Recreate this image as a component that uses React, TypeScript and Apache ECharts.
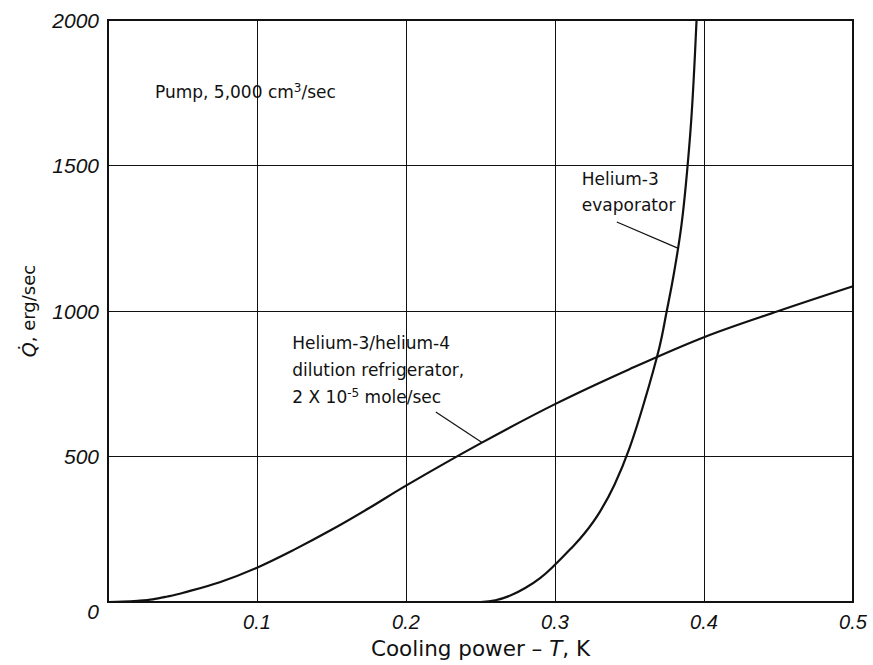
import React, { useEffect, useRef } from "react";
import * as echarts from "echarts";

// Temperature T (K) and cooling power Q-dot (erg/sec) for the two coolers
const DILUTION_T = [0, 0.01, 0.02, 0.03, 0.04, 0.05, 0.075, 0.1, 0.125, 0.15, 0.175, 0.2, 0.25, 0.3, 0.35, 0.4, 0.45, 0.5];
const DILUTION_Q = [0, 1, 4, 9, 19, 31, 68, 118, 180, 248, 322, 400, 545, 680, 800, 910, 1000, 1085];

const EVAPORATOR_T = [0.25, 0.26, 0.27, 0.28, 0.29, 0.3, 0.31, 0.32, 0.33, 0.34, 0.35, 0.36, 0.37, 0.375, 0.38, 0.385, 0.389, 0.392, 0.395];
const EVAPORATOR_Q = [0, 6, 22, 48, 82, 128, 180, 237, 309, 404, 529, 689, 874, 1000, 1135, 1300, 1500, 1700, 2000];

const X_TICKS = [0, 0.1, 0.2, 0.3, 0.4, 0.5];
const Y_TICKS = [0, 500, 1000, 1500, 2000];

// Annotation anchors in data units
const PUMP_LABEL_AT = [0.0315, 1752];
const EVAP_LABEL_AT = [0.318, 1409];
const EVAP_LEADER = [[0.3415, 1306], [0.3824, 1216]];
const DIL_LABEL_AT = [0.1237, 797];
const DIL_LEADER = [[0.22, 653], [0.251, 548]];

const FONT = "'Liberation Sans', Arial, sans-serif";
const WIDE = "'DejaVu Sans', Verdana, sans-serif";

export default function App() {
  const ref = useRef<HTMLDivElement>(null);

  useEffect(() => {
    if (!ref.current) return;
    const chart = echarts.init(ref.current, null, { renderer: "svg" });

    const dilution = DILUTION_T.map((t, i) => [t, DILUTION_Q[i]]);
    const evaporator = EVAPORATOR_T.map((t, i) => [t, EVAPORATOR_Q[i]]);

    const textLabel = (formatter: string, lineHeight: number) => ({
      show: true,
      position: "inside",
      align: "left",
      verticalAlign: "middle",
      color: "#111",
      fontFamily: WIDE,
      fontSize: 17,
      lineHeight,
      formatter,
      rich: {
        t: { fontFamily: WIDE, fontSize: 17, color: "#111", lineHeight },
        sup: { fontFamily: WIDE, fontSize: 12, color: "#111", padding: [0, 0, 9, 0], lineHeight },
      },
    });

    chart.setOption({
      animation: false,
      backgroundColor: "#fff",
      grid: {
        left: 108,
        right: 20,
        top: 20,
        bottom: 63,
        show: true,
        borderColor: "#111",
        borderWidth: 2,
      },
      xAxis: {
        type: "value",
        min: X_TICKS[0],
        max: X_TICKS[X_TICKS.length - 1],
        interval: 0.1,
        name: "{a|Cooling power – }{t|T}{a|, K}",
        nameLocation: "middle",
        nameGap: 35,
        nameTextStyle: {
          rich: {
            a: { fontFamily: WIDE, fontSize: 21.5, color: "#111" },
            t: { fontFamily: WIDE, fontSize: 21.5, fontStyle: "italic", color: "#111" },
          },
        },
        axisLine: { show: true, lineStyle: { color: "#111", width: 2 } },
        axisTick: { show: false },
        axisLabel: {
          margin: 10,
          fontFamily: FONT,
          fontSize: 20,
          fontStyle: "italic",
          color: "#111",
          formatter: (v: number) => (v === 0 ? "" : v.toFixed(1)),
        },
        splitLine: { show: true, lineStyle: { color: "#111", width: 1 } },
      },
      yAxis: {
        type: "value",
        min: Y_TICKS[0],
        max: Y_TICKS[Y_TICKS.length - 1],
        interval: 500,
        name: "{q|Q̇}{n|, erg/sec}",
        nameLocation: "middle",
        nameGap: 70,
        nameTextStyle: {
          rich: {
            q: { fontFamily: WIDE, fontSize: 19, fontStyle: "italic", color: "#111" },
            n: { fontFamily: WIDE, fontSize: 18, color: "#111" },
          },
        },
        axisLine: { show: true, lineStyle: { color: "#111", width: 2 } },
        axisTick: { show: false },
        axisLabel: {
          margin: 9,
          fontFamily: FONT,
          fontSize: 21,
          fontStyle: "italic",
          color: "#111",
          formatter: (v: number) => (v === 0 ? "{z|0}" : String(v)),
          rich: {
            z: { fontFamily: FONT, fontSize: 21, fontStyle: "italic", color: "#111", padding: [18, 0, 0, 0] },
          },
        },
        splitLine: { show: true, lineStyle: { color: "#111", width: 1 } },
      },
      series: [
        {
          name: "Helium-3/helium-4 dilution refrigerator",
          type: "line",
          data: dilution,
          showSymbol: false,
          smooth: 0.35,
          lineStyle: { color: "#111", width: 2.2 },
          markLine: {
            silent: true,
            symbol: ["none", "none"],
            label: { show: false },
            lineStyle: { color: "#111", width: 1.2, type: "solid" },
            data: [[{ coord: DIL_LEADER[0] }, { coord: DIL_LEADER[1] }]],
          },
          markPoint: {
            silent: true,
            symbol: "circle",
            symbolSize: 0,
            data: [
              {
                coord: DIL_LABEL_AT,
                label: textLabel(
                  "{t|Helium-3/helium-4}\n{t|dilution refrigerator,}\n{t|2 X 10}{sup|-5}{t| mole/sec}",
                  27
                ),
              },
              {
                coord: PUMP_LABEL_AT,
                label: textLabel("{t|Pump, 5,000 cm}{sup|3}{t|/sec}", 25),
              },
            ],
          },
        },
        {
          name: "Helium-3 evaporator",
          type: "line",
          data: evaporator,
          showSymbol: false,
          smooth: 0.4,
          lineStyle: { color: "#111", width: 2.2 },
          markLine: {
            silent: true,
            symbol: ["none", "none"],
            label: { show: false },
            lineStyle: { color: "#111", width: 1.2, type: "solid" },
            data: [[{ coord: EVAP_LEADER[0] }, { coord: EVAP_LEADER[1] }]],
          },
          markPoint: {
            silent: true,
            symbol: "circle",
            symbolSize: 0,
            data: [
              {
                coord: EVAP_LABEL_AT,
                label: textLabel("{t|Helium-3}\n{t|evaporator}", 26),
              },
            ],
          },
        },
      ],
    });

    return () => chart.dispose();
  }, []);

  return (
    <div
      ref={ref}
      style={{ position: "fixed", left: 0, top: 0, width: 873, height: 665, background: "#fff" }}
    />
  );
}
